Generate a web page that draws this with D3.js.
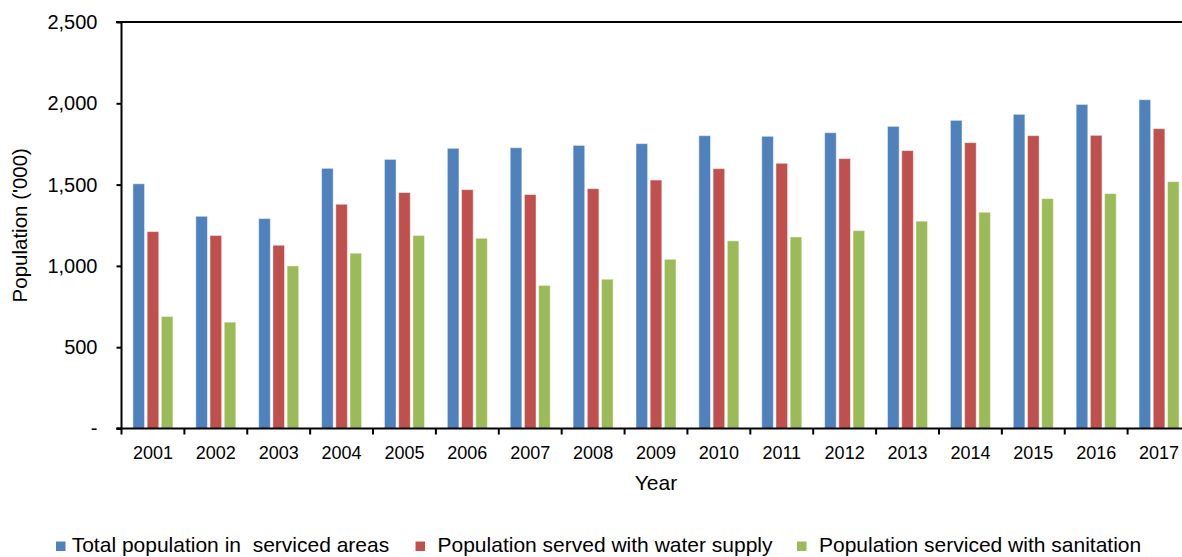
<!DOCTYPE html>
<html>
<head>
<meta charset="utf-8">
<script src="https://cdn.jsdelivr.net/npm/d3@7"></script>
<style>
  html, body { margin: 0; padding: 0; background: #fff; }
  svg { display: block; font-family: "Liberation Sans", Arial, sans-serif; }
</style>
</head>
<body>
<svg id="chart" width="1182" height="557"></svg>
<script>
// Population in serviced areas, thousands, by year
const years = ["2001","2002","2003","2004","2005","2006","2007","2008","2009","2010","2011","2012","2013","2014","2015","2016","2017"];
const totalServiced = [1505, 1305, 1291, 1600, 1655, 1723, 1727, 1741, 1752, 1801, 1797, 1819, 1858, 1895, 1932, 1993, 2022];
const waterSupply   = [1211, 1187, 1127, 1379, 1451, 1469, 1439, 1475, 1528, 1598, 1631, 1660, 1709, 1758, 1801, 1803, 1844];
const sanitation    = [689, 654, 1000, 1078, 1187, 1170, 880, 918, 1041, 1154, 1178, 1217, 1275, 1330, 1414, 1445, 1518];

const seriesNames = ["Total population in  serviced areas", "Population served with water supply", "Population serviced with sanitation"];
const seriesColors = ["#4F81BD", "#C0504D", "#9BBB59"];
const yTicks = [0, 500, 1000, 1500, 2000, 2500];

const seriesValues = [totalServiced, waterSupply, sanitation];

const svg = d3.select("#chart");
const plotLeft = 121.5, plotRight = 1190.5, plotTop = 22, plotBottom = 428.5;

const x = d3.scaleBand().domain(years).range([plotLeft, plotRight]).padding(0);
const y = d3.scaleLinear().domain([0, 2500]).range([plotBottom, plotTop]);

// Three bars per year, clustered in the middle of each band
const step = 14.2, barW = 11.6;
const groupW = step * 2 + barW;
const groupOffset = (x.bandwidth() - groupW) / 2;
const x1 = d3.scaleBand().domain(seriesNames).range([groupOffset, groupOffset + step * 3]).padding(0);

const groups = svg.append("g").selectAll("g")
  .data(years)
  .join("g")
  .attr("transform", d => `translate(${x(d)},0)`);

groups.selectAll("rect")
  .data((d, i) => seriesNames.map((name, k) => ({ name, k, value: seriesValues[k][i] })))
  .join("rect")
  .attr("x", d => x1(d.name))
  .attr("y", d => y(d.value))
  .attr("width", barW)
  .attr("height", d => y(0) - y(d.value))
  .attr("fill", d => seriesColors[d.k])
  .attr("stroke", "rgba(255,255,255,0.45)")
  .attr("stroke-width", 1);

// Top edge of the plot area
svg.append("line")
  .attr("x1", 116).attr("x2", 1182)
  .attr("y1", y(2500)).attr("y2", y(2500))
  .attr("stroke", "#000").attr("stroke-width", 2);

// Y axis
const yAxis = d3.axisLeft(y)
  .tickValues(yTicks)
  .tickSize(5)
  .tickPadding(19)
  .tickFormat(v => v === 0 ? "-" : d3.format(",")(v));
const gy = svg.append("g").attr("transform", `translate(${plotLeft},0)`).call(yAxis);
gy.select(".domain").attr("stroke-width", 2).attr("d", `M-5,${y(2500)}H0V${y(0)}H-5`);
gy.selectAll(".tick line").attr("stroke-width", 2);
gy.selectAll(".tick text")
  .attr("font-size", "20px")
  .attr("fill", "#000")
  .attr("font-family", "Liberation Sans, Arial, sans-serif");

// X axis with ticks between categories
const gx = svg.append("g").attr("transform", `translate(0,${plotBottom})`);
gx.append("line")
  .attr("x1", plotLeft - 5).attr("x2", 1182)
  .attr("stroke", "#000").attr("stroke-width", 2);
const boundaries = years.map(d => x(d)).concat([x(years[years.length - 1]) + x.bandwidth()]);
gx.selectAll(".xtick")
  .data(boundaries)
  .join("line")
  .attr("class", "xtick")
  .attr("x1", d => d).attr("x2", d => d)
  .attr("y1", 0).attr("y2", 6)
  .attr("stroke", "#000").attr("stroke-width", 2);
gx.selectAll(".xlabel")
  .data(years)
  .join("text")
  .attr("class", "xlabel")
  .attr("x", d => x(d) + x.bandwidth() / 2)
  .attr("y", 30)
  .attr("text-anchor", "middle")
  .attr("font-size", "18px")
  .text(d => d);

// Axis titles
svg.append("text")
  .attr("x", (plotLeft + plotRight) / 2)
  .attr("y", 490)
  .attr("text-anchor", "middle")
  .attr("font-size", "21px")
  .text("Year");

svg.append("text")
  .attr("transform", `translate(27,${(plotTop + plotBottom) / 2}) rotate(-90)`)
  .attr("text-anchor", "middle")
  .attr("font-size", "20.5px")
  .text("Population ('000)");

// Legend
const legend = svg.append("g").attr("transform", "translate(0,552)");
const legendX = [56, 415.5, 797];
seriesNames.forEach((name, k) => {
  legend.append("rect")
    .attr("x", legendX[k]).attr("y", -10.5)
    .attr("width", 9.5).attr("height", 9.5)
    .attr("fill", seriesColors[k]);
  legend.append("text")
    .attr("x", legendX[k] + (k === 0 ? 15.7 : 22))
    .attr("y", 0)
    .attr("font-size", "21px")
    .style("white-space", "pre")
    .text(name);
});
</script>
</body>
</html>
